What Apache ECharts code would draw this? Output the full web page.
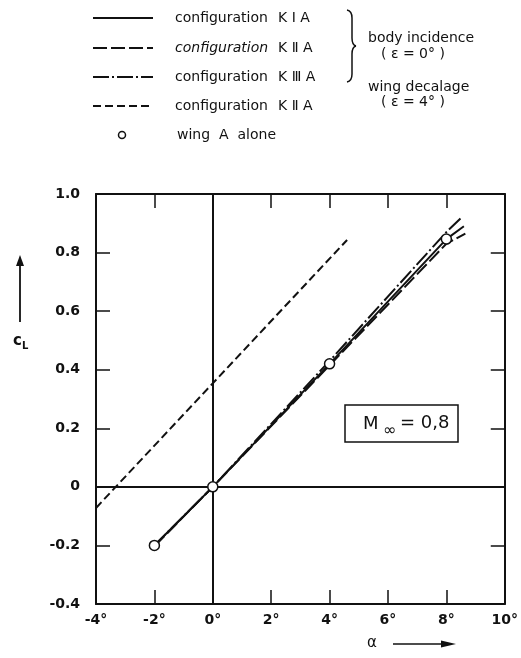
<!DOCTYPE html>
<html>
<head>
<meta charset="utf-8">
<script src="https://cdn.jsdelivr.net/npm/echarts@6/dist/echarts.min.js"></script>
<style>
  html, body { margin: 0; padding: 0; background: #fff; }
  #main { width: 521px; height: 658px; }
</style>
</head>
<body>
<div id="main"></div>
<script>
// 数据 (alpha in deg, c_L)
var alphaTicks = [-4, -2, 0, 2, 4, 6, 8, 10];
var kIA = [[-2, -0.2], [0, 0], [4, 0.42], [8, 0.846], [8.6, 0.89]];
var kIIA = [[-2, -0.203], [0, 0], [4, 0.415], [8, 0.83], [8.65, 0.865]];
var kIIIA = [[-2, -0.2], [0, 0], [4, 0.43], [8, 0.87], [8.55, 0.923]];
var kIIADecalage = [[-4, -0.072], [4.6, 0.843]];
var wingAlone = [[-2, -0.2], [0, 0], [4, 0.42], [8, 0.846]];

var ink = '#111';

function xAxisCfg(pos, showLabel) {
  return {
    type: 'value', position: pos, min: -4, max: 10, interval: 2,
    axisLine: { show: true, onZero: false, lineStyle: { color: ink, width: 2 } },
    axisTick: { show: true, inside: true, length: 14, lineStyle: { color: ink, width: 1.5 } },
    axisLabel: {
      show: showLabel, margin: 9, color: ink, fontSize: 14, fontWeight: 'bold', fontFamily: 'DejaVu Sans',
      formatter: function (v) { return v + '°'; }
    },
    splitLine: { show: false }
  };
}
function yAxisCfg(pos, showLabel) {
  return {
    type: 'value', position: pos, min: -0.4, max: 1.0, interval: 0.2,
    axisLine: { show: true, onZero: false, lineStyle: { color: ink, width: 2 } },
    axisTick: { show: true, inside: true, length: 14, lineStyle: { color: ink, width: 1.5 } },
    axisLabel: {
      show: showLabel, margin: 16, color: ink, fontSize: 14, fontWeight: 'bold', fontFamily: 'DejaVu Sans',
      formatter: function (v) { return Math.abs(v) < 1e-9 ? '0' : v.toFixed(1); }
    },
    splitLine: { show: false }
  };
}

function lineSeries(name, data, dash) {
  return {
    name: name, type: 'line', data: data, symbol: 'none', smooth: false,
    lineStyle: { color: ink, width: 2, type: dash },
    z: 3
  };
}

// 图例 + 注释
var graphics = [];
var legendRows = [
  { y: 18, dash: null, k: 'K Ⅰ A', italic: false },
  { y: 48, dash: [14, 4], k: 'K Ⅱ A', italic: true },
  { y: 77, dash: [16, 3, 2, 3], k: 'K Ⅲ A', italic: false },
  { y: 106, dash: [8, 4], k: 'K Ⅱ A', italic: false }
];
legendRows.forEach(function (r) {
  graphics.push({
    type: 'line', shape: { x1: 93, y1: r.y, x2: 153, y2: r.y },
    style: { stroke: ink, lineWidth: 1.8, lineDash: r.dash }
  });
  graphics.push({
    type: 'text', x: 175, y: r.y,
    style: { text: 'configuration', fill: ink, font: (r.italic ? 'italic ' : '') + '14px "DejaVu Sans"', textVerticalAlign: 'middle' }
  });
  graphics.push({
    type: 'text', x: 278, y: r.y,
    style: { text: r.k, fill: ink, font: '14px "DejaVu Sans"', textVerticalAlign: 'middle' }
  });
});
graphics.push({
  type: 'circle', shape: { cx: 122, cy: 135, r: 3.5 },
  style: { fill: '#fff', stroke: ink, lineWidth: 1.5 }
});
graphics.push({
  type: 'text', x: 177, y: 135,
  style: { text: 'wing  A  alone', fill: ink, font: '14px "DejaVu Sans"', textVerticalAlign: 'middle' }
});
// brace
var braceParts = [
  { x1: 347, y1: 10, cpx1: 352, cpy1: 11, x2: 352, y2: 18 },
  { x1: 352, y1: 38, cpx1: 352, cpy1: 45, x2: 356, y2: 46 },
  { x1: 356, y1: 46, cpx1: 352, cpy1: 47, x2: 352, y2: 54 },
  { x1: 352, y1: 74, cpx1: 352, cpy1: 81, x2: 347, y2: 82 }
];
braceParts.forEach(function (s) {
  graphics.push({ type: 'bezierCurve', shape: s, style: { fill: null, stroke: ink, lineWidth: 1.5 } });
});
graphics.push({ type: 'line', shape: { x1: 352, y1: 18, x2: 352, y2: 38 }, style: { stroke: ink, lineWidth: 1.5 } });
graphics.push({ type: 'line', shape: { x1: 352, y1: 54, x2: 352, y2: 74 }, style: { stroke: ink, lineWidth: 1.5 } });

var noteTexts = [
  { t: 'body incidence', x: 368, y: 38 },
  { t: '( ε = 0° )', x: 381, y: 54 },
  { t: 'wing decalage', x: 368, y: 87 },
  { t: '( ε = 4° )', x: 381, y: 102 }
];
noteTexts.forEach(function (n) {
  graphics.push({
    type: 'text', x: n.x, y: n.y,
    style: { text: n.t, fill: ink, font: '14px "DejaVu Sans"', textVerticalAlign: 'middle' }
  });
});
// y axis name c_L with arrow
graphics.push({
  type: 'line', shape: { x1: 20, y1: 322, x2: 20, y2: 262 },
  style: { stroke: ink, lineWidth: 1.8 }
});
graphics.push({
  type: 'polygon', shape: { points: [[16, 266], [24, 266], [20, 255]] },
  style: { fill: ink }
});
graphics.push({
  type: 'text', x: 13, y: 341,
  style: { text: 'c', fill: ink, font: 'bold 15px "DejaVu Sans"', textVerticalAlign: 'middle' }
});
graphics.push({
  type: 'text', x: 22, y: 346,
  style: { text: 'L', fill: ink, font: 'bold 10px "DejaVu Sans"', textVerticalAlign: 'middle' }
});
// x axis name alpha with arrow
graphics.push({
  type: 'text', x: 367, y: 643,
  style: { text: 'α', fill: ink, font: '15px "DejaVu Sans"', textVerticalAlign: 'middle' }
});
graphics.push({
  type: 'line', shape: { x1: 393, y1: 644, x2: 445, y2: 644 },
  style: { stroke: ink, lineWidth: 1.5 }
});
graphics.push({
  type: 'polygon', shape: { points: [[441, 640.5], [441, 647.5], [456, 644]] },
  style: { fill: ink }
});
// Mach box
graphics.push({
  type: 'rect', shape: { x: 345, y: 405, width: 113, height: 37 },
  style: { fill: '#fff', stroke: ink, lineWidth: 1.5 }, z: 10
});
graphics.push({
  type: 'text', x: 363, y: 424, z: 11,
  style: { text: 'M', fill: ink, font: '18px "DejaVu Sans"', textVerticalAlign: 'middle' }
});
graphics.push({
  type: 'text', x: 383, y: 431, z: 11,
  style: { text: '∞', fill: ink, font: '16px "DejaVu Sans"', textVerticalAlign: 'middle' }
});
graphics.push({
  type: 'text', x: 400, y: 423, z: 11,
  style: { text: '= 0,8', fill: ink, font: '18px "DejaVu Sans"', textVerticalAlign: 'middle' }
});

var chart = echarts.init(document.getElementById('main'));
var option = {
  backgroundColor: '#fff',
  animation: false,
  grid: { left: 96, top: 194, width: 410, height: 410, containLabel: false },
  xAxis: [xAxisCfg('bottom', true), xAxisCfg('top', false)],
  yAxis: [yAxisCfg('left', true), yAxisCfg('right', false)],
  graphic: graphics,
  series: [
    {
      name: 'axes', type: 'line', data: [], symbol: 'none',
      markLine: {
        silent: true, symbol: 'none', label: { show: false },
        lineStyle: { color: ink, type: 'solid', width: 2 },
        data: [{ xAxis: 0 }, { yAxis: 0 }]
      }
    },
    lineSeries('configuration K I A', kIA, 'solid'),
    lineSeries('configuration K II A', kIIA, [14, 4]),
    lineSeries('configuration K III A', kIIIA, [16, 3, 2, 3]),
    lineSeries('configuration K II A (decalage)', kIIADecalage, [8, 4]),
    {
      name: 'wing A alone', type: 'scatter', data: wingAlone,
      symbol: 'circle', symbolSize: 10,
      itemStyle: { color: '#fff', borderColor: ink, borderWidth: 1.5, opacity: 1 },
      z: 5
    }
  ]
};
chart.setOption(option);
window.addEventListener('resize', function () { chart.resize(); });
</script>
</body>
</html>
